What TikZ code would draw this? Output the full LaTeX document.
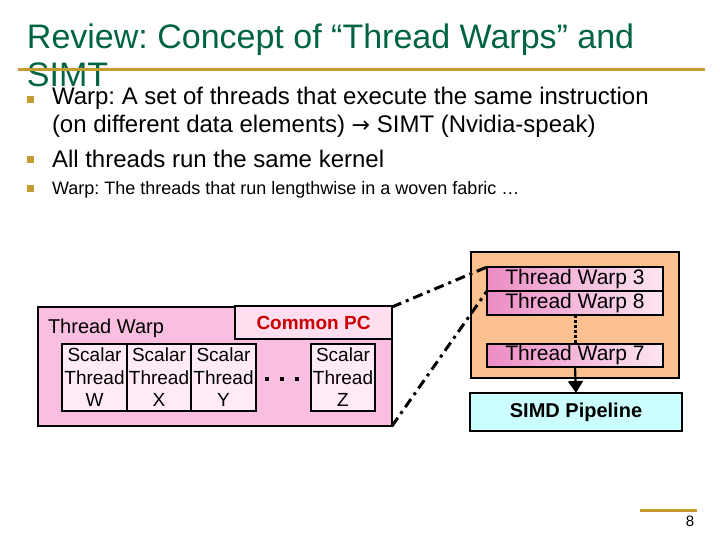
\documentclass[tikz,border=0pt]{standalone}
\usepackage{fontspec}
\setmainfont{Liberation Sans}
\newfontfamily\symfont{DejaVu Sans}
\usetikzlibrary{arrows.meta}
\definecolor{titlegreen}{RGB}{0,100,66}
\definecolor{gold}{RGB}{196,156,48}
\definecolor{bigpink}{RGB}{250,190,224}
\definecolor{pcpink}{RGB}{255,222,240}
\definecolor{scpink}{RGB}{255,234,246}
\definecolor{twpinkL}{RGB}{236,140,196}
\definecolor{twpinkR}{RGB}{253,230,242}
\definecolor{orangebox}{RGB}{250,192,143}
\definecolor{cyanbox}{RGB}{204,255,255}
\definecolor{pcred}{RGB}{204,0,0}
\frenchspacing
\tikzset{
  fs/.style={font=\fontsize{#1}{#1}\selectfont},
  txt/.style={anchor=base west, inner sep=0pt, outer sep=0pt},
  bulletsq/.style={rectangle, fill=gold, minimum size=7pt, inner sep=0pt},
  goldline/.style={draw=gold, line width=3pt},
  boxx/.style={rectangle, draw=black, line width=1.2pt, inner sep=0pt, outer sep=0pt},
  scalarbox/.style={boxx, fill=scpink, minimum width=65pt, minimum height=67pt, align=center,
     font=\fontsize{19}{22.5}\selectfont},
  twbox/.style={boxx, left color=twpinkL, right color=twpinkR, minimum width=176pt,
     font=\fontsize{21}{24}\selectfont},
  dashdot/.style={draw=black, line width=3pt, dash pattern=on 10pt off 5pt on 3pt off 5pt},
  dotv/.style={draw=black, line width=3pt, dash pattern=on 3pt off 2pt},
  arr/.style={draw=black, line width=2.2pt, -{Triangle[length=12pt,width=15pt]}},
  dotsq/.style={rectangle, fill=black, minimum size=3.5pt, inner sep=0pt},
}
\begin{document}
\begin{tikzpicture}[x=1pt,y=-1pt]
\useasboundingbox (0,0) rectangle (720,540);
% title
\node[txt, fs=34, text=titlegreen] (title1) at (27,49) {Review: Concept of “Thread Warps” and};
\node[txt, fs=34, text=titlegreen] (title2) at (27,87) {SIMT};
\coordinate (gA) at (18,70);
\coordinate (gB) at (705,70);
\draw[goldline] (gA) -- (gB);
% bullets
\node[bulletsq] (b1) at (30.5,100) {};
\node[txt, fs=24] (l1) at (52,105) {Warp: A set of threads that execute the same instruction};
\node[txt, fs=24] (l2) at (52,133) {(on different data elements) {\symfont\fontsize{22}{22}\selectfont →} SIMT (Nvidia-speak)};
\node[bulletsq] (b2) at (30.5,160) {};
\node[txt, fs=24] (l3) at (52,168) {All threads run the same kernel};
\node[bulletsq] (b3) at (30.5,189) {};
\node[txt, fs=18] (l4) at (52,195) {Warp: The threads that run lengthwise in a woven fabric …};
% left thread warp box
\node[boxx, fill=bigpink, minimum width=354pt, minimum height=119pt] (lbox) at (215,366.5) {};
\node[boxx, fill=pcpink, minimum width=157pt, minimum height=33pt,
      font=\bfseries\fontsize{19}{22}\selectfont, text=pcred] (pc) at (313.5,322.5) {Common PC};
\node[txt, fs=20] (twlab) at (48,333) {Thread Warp};
\node[scalarbox] (sw) at (94.5,377.5) {Scalar\\Thread\\W};
\node[scalarbox, minimum width=64pt] (sx) at (159,377.5) {Scalar\\Thread\\X};
\node[scalarbox] (sy) at (223.5,377.5) {Scalar\\Thread\\Y};
\node[scalarbox, minimum width=64pt] (sz) at (343,377.5) {Scalar\\Thread\\Z};
\node[dotsq] (d1) at (267,379) {};
\node[dotsq] (d2) at (282,379) {};
\node[dotsq] (d3) at (297,379) {};
% right side
\node[boxx, fill=orangebox, minimum width=208pt, minimum height=126pt] (obox) at (575,315) {};
\node[twbox, minimum height=24pt] (tw3) at (575,279) {Thread Warp 3};
\node[twbox, minimum height=24pt] (tw8) at (575,303) {Thread Warp 8};
\node[twbox, minimum height=23pt] (tw7) at (575,355.5) {Thread Warp 7};
\node[boxx, fill=cyanbox, minimum width=212pt, minimum height=38pt,
      font=\bfseries\fontsize{20}{23}\selectfont] (simd) at (576,412) {SIMD Pipeline};
\draw[dotv] (tw8.south) -- (tw7.north);
\draw[arr] (tw7.south) -- (simd.north);
% zoom lines
\draw[dashdot] (lbox.north east) -- (tw3.north west);
\draw[dashdot] (lbox.south east) -- (tw3.south west);
% footer
\coordinate (fA) at (640,510);
\coordinate (fB) at (697,510);
\draw[goldline] (fA) -- (fB);
\node[fs=15, inner sep=0pt] (pg) at (690,521) {8};
\end{tikzpicture}
\end{document}
